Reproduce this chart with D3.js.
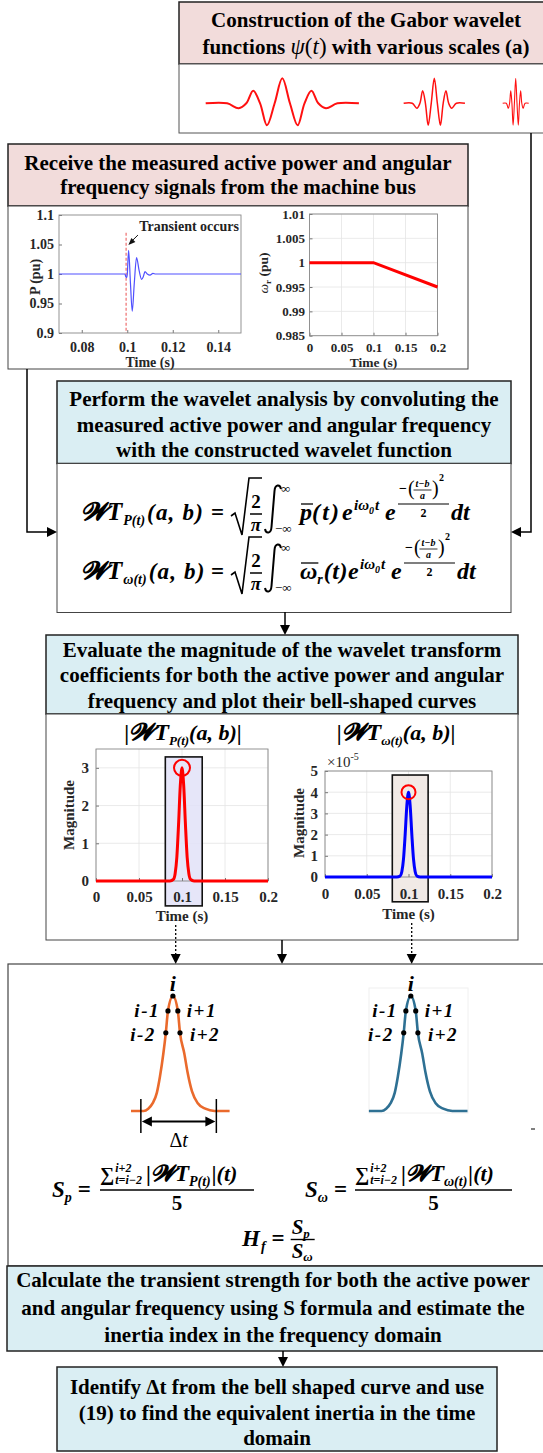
<!DOCTYPE html>
<html><head><meta charset="utf-8">
<script src="https://cdn.jsdelivr.net/npm/d3@7/dist/d3.min.js"></script>
<style>html,body{margin:0;padding:0;background:#fff}svg{display:block}</style>
</head><body>
<svg id="fig" width="543" height="1453" xmlns="http://www.w3.org/2000/svg"></svg>
<script>
// ---------------- data ----------------
const gaborT   = [-1,-0.72,-0.57,-0.47,-0.38,-0.29,-0.2,-0.1,0,0.1,0.2,0.29,0.38,0.47,0.57,0.72,1];
const gaborPsi = [0,0,-0.2,0,0.5,0,-0.88,0,1,0,-0.88,0,0.5,0,-0.2,0,0];
const gaborScales = [1, 0.4, 0.17];

const pTime  = [0.07,0.0990,0.0994,0.0998,0.1000,0.1006,0.1014,0.1022,0.1031,0.1041,0.1052,0.1063,0.1071,0.1078,0.1088,0.1100,0.1113,0.1125,0.15];
const pValue = [1.0, 1.0,   0.995, 0.994, 0.999, 1.040, 0.985, 0.937, 0.985, 1.028, 1.006, 0.991, 0.996, 1.004, 1.000, 0.998, 1.001, 1.0,   1.0];
const pTicksX = [0.08,0.1,0.12,0.14];
const pLabelsX = ["0.08","0.1","0.12","0.14"];
const pTicksY = [0.9,0.95,1,1.05,1.1];
const pLabelsY = ["0.9","0.95","1","1.05","1.1"];
const transientTime = 0.0995;

const omegaTime  = [0, 0.1, 0.2];
const omegaValue = [1, 1, 0.995];
const omegaTicksY  = [0.985,0.99,0.995,1,1.005,1.01];
const omegaLabelsY = ["0.985","0.99","0.995","1","1.005","1.01"];
const timeTicks  = [0,0.05,0.1,0.15,0.2];
const timeLabels = ["0","0.05","0.1","0.15","0.2"];

const wtTime  = [0,0.086,0.090,0.092,0.094,0.096,0.098,0.100,0.102,0.104,0.106,0.108,0.110,0.114,0.2];
const wtPower = [0,0,0.04,0.19,0.63,1.5,2.52,3.0,2.52,1.5,0.63,0.19,0.04,0,0];
const wtOmega = [0,0,0.05,0.25,0.84,2.0,3.36,4.0,3.36,2.0,0.84,0.25,0.05,0,0];
const wtPowerTicks = [0,1,2,3];
const wtOmegaTicks = [0,1,2,3,4,5];
const peakTime = 0.1, peakPower = 3, peakOmega = 4;
const windowTime = [0.0806, 0.1235];

const bellTime  = [0.0864,0.0905,0.0920,0.0935,0.0948,0.0958,0.0969,0.0977,0.0984,0.1000,0.1016,0.1023,0.1037,0.1048,0.1062,0.1080,0.1105,0.1135,0.1184];
const bellValue = [0,0,0.02,0.07,0.16,0.30,0.50,0.68,0.87,1,0.87,0.68,0.50,0.33,0.17,0.07,0.02,0,0];
const dotTime   = [0.0977,0.0984,0.1000,0.1016,0.1023];
const dotValue  = [0.68,0.87,1,0.87,0.68];
const dotLabels = ["i-2","i-1","i","i+1","i+2"];
const deltaT = [0.0896, 0.1141];

// ---------------- helpers ----------------
const svg = d3.select('#fig');
const SERIF = "'Liberation Serif','Times New Roman',serif";
const MATHF = "'Liberation Serif','DejaVu Serif',serif";
const SW = '𝓦';
const PINK = '#f2dcdb', BLUE = '#daeef3';

function rect(x,y,w,h,fill,stroke,sw){
  return svg.append('rect').attr('x',x).attr('y',y).attr('width',w).attr('height',h)
    .attr('fill',fill).attr('stroke',stroke).attr('stroke-width',sw);
}
function lines(arr, cx, bases, size){
  arr.forEach((t,i)=>svg.append('text').attr('x',cx).attr('y',bases[i]).attr('text-anchor','middle')
    .attr('font-family',SERIF).attr('font-weight','bold').attr('font-size',size).attr('fill','#000').text(t));
}
function head(x,y,dir){ // tip at x,y
  const L=10, H=5; let p;
  if(dir==='down') p=[[x,y],[x-H,y-L],[x+H,y-L]];
  if(dir==='left') p=[[x,y],[x+L,y-H],[x+L,y+H]];
  if(dir==='right') p=[[x,y],[x-L,y-H],[x-L,y+H]];
  svg.append('path').attr('d','M'+p.map(q=>q.join(',')).join('L')+'Z').attr('fill','#000');
}
function T(s,x,y,size,o={}){
  const t=svg.append('text').attr('x',x).attr('y',y).attr('font-family',o.family||MATHF)
    .attr('font-size',size).attr('font-weight',o.weight||'bold').attr('font-style',o.style||'italic')
    .attr('text-anchor',o.anchor||'start').attr('fill','#000').text(s);
  if(o.ls) t.attr('letter-spacing',o.ls);
  return t.node().getComputedTextLength();
}
function integral(x, top, bottom){
  svg.append('path').attr('d',
    `M${x+15},${top+4} C${x+14},${top-1} ${x+9},${top-1} ${x+8.5},${top+6} L${x+5.5},${bottom-6} C${x+5},${bottom+1} ${x},${bottom+1} ${x-1},${bottom-4}`)
    .attr('fill','none').attr('stroke','#000').attr('stroke-width',2);
}
function hline(x1,x2,y,w){
  svg.append('line').attr('x1',x1).attr('x2',x2).attr('y1',y).attr('y2',y).attr('stroke','#000').attr('stroke-width',w);
}

// ---------------- Box 1 : Gabor ----------------
rect(179,2,375,62,PINK,'#222',1.5);
rect(179,64,375,69,'#fff','#555',1);
lines(["Construction of the Gabor wavelet"],366,[27],21);
{
  const t=svg.append('text').attr('x',366).attr('y',54).attr('text-anchor','middle')
    .attr('font-family',SERIF).attr('font-weight','bold').attr('font-size',21);
  t.append('tspan').text('functions ');
  t.append('tspan').attr('font-weight','normal').attr('font-style','italic').attr('font-size',23).text('ψ');
  t.append('tspan').attr('font-weight','normal').attr('font-size',23).text('(');
  t.append('tspan').attr('font-weight','normal').attr('font-style','italic').attr('font-size',23).text('t');
  t.append('tspan').attr('font-weight','normal').attr('font-size',23).text(')');
  t.append('tspan').text(' with various scales (a)');
}
{
  const centers=[282.3,434.3,515.7], half=76.6, widths=[2,1.5,1.1];
  const gabor = gaborT.map((t,i)=>[t,gaborPsi[i]]);
  gaborScales.forEach((s,k)=>{
    const x=d3.scaleLinear().domain([-1,1]).range([centers[k]-half*s, centers[k]+half*s]);
    const y=d3.scaleLinear().domain([-1,1]).range([128.3,78.3]);
    svg.append('path').datum(gabor).attr('d',d3.line().x(d=>x(d[0])).y(d=>y(d[1])).curve(d3.curveCatmullRom))
      .attr('fill','none').attr('stroke','#ff1010').attr('stroke-width',widths[k]);
  });
}

// ---------------- Box 2 : measured signals ----------------
rect(8,144,460,62,PINK,'#222',1.5);
rect(8,206,460,163,'#fff','#444',1);
lines(["Receive the measured active power and angular","frequency signals from the machine bus"],238,[170,194],21);

function plot(o){
  const g=svg.append('g');
  const x=d3.scaleLinear().domain(o.xDomain).range([o.left,o.right]);
  const y=d3.scaleLinear().domain(o.yDomain).range([o.bottom,o.top]);
  if(o.grid){
    g.selectAll(null).data(o.xTicks).join('line').attr('x1',d=>x(d)).attr('x2',d=>x(d))
      .attr('y1',o.top).attr('y2',o.bottom).attr('stroke','#e4e4e4').attr('stroke-width',0.8);
    g.selectAll(null).data(o.yTicks).join('line').attr('y1',d=>y(d)).attr('y2',d=>y(d))
      .attr('x1',o.left).attr('x2',o.right).attr('stroke','#e4e4e4').attr('stroke-width',0.8);
  }
  if(o.before) o.before(g,x,y);
  const xa=d3.axisBottom(x).tickValues(o.xTicks).tickFormat((d,i)=>o.xLabels[i]).tickSizeInner(-3).tickSizeOuter(0).tickPadding(o.xPad);
  const ya=d3.axisLeft(y).tickValues(o.yTicks).tickFormat((d,i)=>o.yLabels[i]).tickSizeInner(-3).tickSizeOuter(0).tickPadding(o.yPad);
  const gx=g.append('g').attr('transform',`translate(0,${o.bottom})`).call(xa);
  const gy=g.append('g').attr('transform',`translate(${o.left},0)`).call(ya);
  [gx,gy].forEach(a=>{a.select('.domain').remove();a.selectAll('line').attr('stroke','#777');
    a.selectAll('text').attr('font-family',SERIF).attr('font-weight','bold').attr('font-size',o.fs).attr('fill','#262626');});
  g.append('rect').attr('x',o.left).attr('y',o.top).attr('width',o.right-o.left).attr('height',o.bottom-o.top)
    .attr('fill','none').attr('stroke','#888').attr('stroke-width',0.9);
  g.append('text').attr('x',(o.left+o.right)/2).attr('y',o.xLabelY).attr('text-anchor','middle')
    .attr('font-family',SERIF).attr('font-weight','bold').attr('font-size',o.lfs).attr('fill','#262626').text('Time (s)');
  return {g,x,y};
}

// P chart
{
  const c=plot({left:59,right:241,top:215,bottom:333,xDomain:[0.07,0.15],yDomain:[0.9,1.1],
    xTicks:pTicksX,xLabels:pLabelsX,yTicks:pTicksY,yLabels:pLabelsY,grid:false,fs:14,lfs:14,
    xPad:9,yPad:5,xLabelY:367});
  const g=c.g,x=c.x,y=c.y;
  g.append('line').attr('x1',x(transientTime)).attr('x2',x(transientTime)).attr('y1',y(1.07)).attr('y2',y(0.9))
    .attr('stroke','#f07a7a').attr('stroke-width',1.3).attr('stroke-dasharray','3,2');
  g.append('path').datum(pTime.map((t,i)=>[t,pValue[i]]))
    .attr('d',d3.line().x(d=>x(d[0])).y(d=>y(d[1])).curve(d3.curveMonotoneX))
    .attr('fill','none').attr('stroke','#5050ff').attr('stroke-width',1.2);
  g.append('text').attr('x',x(0.1053)).attr('y',231).attr('font-family',SERIF).attr('font-weight','bold')
    .attr('font-size',14).attr('fill','#222').text('Transient occurs');
  g.append('line').attr('x1',x(0.1047)).attr('y1',y(1.066)).attr('x2',x(0.1010)).attr('y2',y(1.052))
    .attr('stroke','#111').attr('stroke-width',1);
  const tx=x(0.1005), ty=y(1.049);
  g.append('path').attr('d',`M${tx},${ty} L${tx+3},${ty-7} L${tx+7},${ty-3} Z`).attr('fill','#111');
  svg.append('text').attr('transform','translate(40,277) rotate(-90)').attr('text-anchor','middle')
    .attr('font-family',SERIF).attr('font-weight','bold').attr('font-size',14).attr('fill','#262626').text('P (pu)');
}
// omega chart
{
  const c=plot({left:309.5,right:437.5,top:214,bottom:335.7,xDomain:[0,0.2],yDomain:[0.985,1.01],
    xTicks:timeTicks,xLabels:timeLabels,yTicks:omegaTicksY,yLabels:omegaLabelsY,grid:true,fs:13,lfs:13.5,
    xPad:7.5,yPad:4.5,xLabelY:367});
  c.g.append('path').datum(omegaTime.map((t,i)=>[t,omegaValue[i]]))
    .attr('d',d3.line().x(d=>c.x(d[0])).y(d=>c.y(d[1])))
    .attr('fill','none').attr('stroke','#ff0000').attr('stroke-width',3);
  const t=svg.append('text').attr('transform','translate(268,273) rotate(-90)').attr('text-anchor','middle')
    .attr('font-family',SERIF).attr('font-weight','bold').attr('font-size',13.5).attr('fill','#262626');
  t.append('tspan').attr('font-style','italic').attr('font-weight','normal').text('ω');
  t.append('tspan').attr('font-size',9).attr('dy',3).text('r');
  t.append('tspan').attr('dy',-3).text(' (pu)');
}

// ---------------- Box 3 : wavelet analysis ----------------
rect(57,381,454,82.5,BLUE,'#222',1.5);
rect(57,463.5,454,149,'#fff','#444',1);
lines(["Perform the wavelet analysis by convoluting the","measured active power and angular frequency","with the constructed wavelet function"],284,[406,432,457],21);

function wtFormula(base, sub, omega, P){
  let cx=P.wt;
  cx+=T(SW+'T',cx,base,25);
  cx+=T(sub,cx+1,base+5,14)+3;
  T('(a, b)',cx,base,23,{ls:1.2});
  T('=',P.eq,base,23,{style:'normal'});
  const sx=P.sqrt;
  svg.append('path').attr('d',`M${sx},${base-4} l4,-3 l7,22 l7,-57 h13`).attr('fill','none').attr('stroke','#000').attr('stroke-width',1.6);
  T('2',sx+25,base-12,19,{anchor:'middle',style:'normal'});
  hline(sx+19,sx+31,base-6,1.5);
  T('π',sx+25,base+11,19,{anchor:'middle'});
  integral(P.int,base-35,base+13);
  T('∞',P.int+15,base-27,13,{style:'normal',weight:'normal'});
  T('−∞',P.int+9,base+13,13,{style:'normal',weight:'normal'});
  cx=P.v;
  const vw=T(omega?'ω':'p',cx,base,24);
  hline(cx+1,cx+vw+1,base-16,1.3);
  cx+=vw;
  if(omega) cx+=T('r',cx,base+5,14)+1;
  cx+=T('(t)',cx,base,24,{ls:omega?0.5:2.2});
  const sh=Math.max(0,cx-P.e1);
  T('e',P.e1+sh,base,24);
  let sx2=P.sup+sh;
  sx2+=T('iω',sx2,base-10,15);
  sx2+=T('0',sx2,base-6,10);
  T('t',sx2+1,base-10,15);
  T('e',P.e2+sh,base,24);
  const nx=P.ex0+sh, nx1=P.ex1+sh;
  T('−',nx+1,base-27,14,{style:'normal'});
  T('(',nx+10,base-25,20,{style:'normal',weight:'normal'});
  const fc=nx+24.5;
  T('t−b',fc,base-33,10,{anchor:'middle'});
  hline(fc-9,fc+9,base-30,0.8);
  T('a',fc,base-21,10,{anchor:'middle'});
  T(')',nx+34,base-25,20,{style:'normal',weight:'normal'});
  T('2',nx+41,base-39,10,{style:'normal'});
  hline(nx,nx1,base-16,1.2);
  T('2',(nx+nx1)/2,base-3,12,{anchor:'middle',style:'normal'});
  T('dt',P.dt+sh,base,24);
}
wtFormula(520,'P(t)',false,{wt:81,eq:211,sqrt:231,int:266,v:300,e1:342,sup:354,e2:385,ex0:398,ex1:449,dt:451});
wtFormula(579,'ω(t)',true,{wt:81,eq:211,sqrt:231,int:266,v:300,e1:347,sup:359,e2:390,ex0:403,ex1:454,dt:456});

// connectors into box 3
svg.append('path').attr('d','M531,133 V532 H521').attr('fill','none').attr('stroke','#000').attr('stroke-width',1.5);
head(511,532,'left');
svg.append('path').attr('d','M27,369 V532 H47').attr('fill','none').attr('stroke','#000').attr('stroke-width',1.5);
head(57,532,'right');
svg.append('line').attr('x1',285).attr('x2',285).attr('y1',612).attr('y2',626).attr('stroke','#000').attr('stroke-width',1.5);
head(285,635,'down');

// ---------------- Box 4 : magnitude ----------------
rect(46,635,472,79,BLUE,'#222',1.5);
rect(46,714,472,226,'#fff','#444',1);
lines(["Evaluate the magnitude of the wavelet transform","coefficients for both the active power and angular","frequency and plot their bell-shaped curves"],282,[657,682,707.5],21);

function wtTitle(cx, base, sub){
  const t=svg.append('text').attr('x',cx).attr('y',base).attr('text-anchor','middle').attr('font-family',MATHF)
    .attr('font-weight','bold').attr('font-style','italic').attr('font-size',22).attr('fill','#000');
  t.append('tspan').attr('font-style','normal').text('|');
  t.append('tspan').attr('font-size',24).text(SW+'T');
  t.append('tspan').attr('font-size',13).attr('dy',5).text(sub);
  t.append('tspan').attr('dy',-5).text('(a, b)');
  t.append('tspan').attr('font-style','normal').text('|');
}
wtTitle(183,740,'P(t)');
wtTitle(396,740,'ω(t)');

function wtChart(o){
  const c=plot({left:o.left,right:o.right,top:o.top,bottom:o.bottom,xDomain:[0,0.2],yDomain:o.yDomain,
    xTicks:timeTicks,xLabels:timeLabels,yTicks:o.yTicks,yLabels:o.yTicks.map(String),grid:true,fs:15,lfs:15,
    xPad:o.xPad,yPad:7,xLabelY:o.xLabelY,
    before:(g,x,y)=>{
      g.append('rect').attr('x',x(windowTime[0])).attr('width',x(windowTime[1])-x(windowTime[0]))
        .attr('y',y(o.win[1])).attr('height',y(o.win[0])-y(o.win[1]))
        .attr('fill',o.winFill).attr('fill-opacity',0.85).attr('stroke','#111').attr('stroke-width',1.6);
    }});
  c.g.append('path').datum(wtTime.map((t,i)=>[t,o.values[i]]))
    .attr('d',d3.line().x(d=>c.x(d[0])).y(d=>c.y(d[1])).curve(d3.curveMonotoneX))
    .attr('fill','none').attr('stroke',o.color).attr('stroke-width',3);
  c.g.append('circle').attr('cx',c.x(peakTime)).attr('cy',c.y(o.peak)).attr('r',o.r)
    .attr('fill','none').attr('stroke','#ff0000').attr('stroke-width',2);
  svg.append('text').attr('transform',`translate(${o.ylx},${o.yly}) rotate(-90)`).attr('text-anchor','middle')
    .attr('font-family',SERIF).attr('font-weight','bold').attr('font-size',15).attr('fill','#262626').text('Magnitude');
  return c;
}
wtChart({left:96,right:268,top:749,bottom:881,yDomain:[0,3.5],yTicks:wtPowerTicks,values:wtPower,color:'#ff0000',
  peak:peakPower,r:8,win:[-0.66,3.29],winFill:'#e2e2f8',xPad:10.5,xLabelY:921,ylx:74,yly:815});
wtChart({left:325,right:492,top:771,bottom:877,yDomain:[0,5],yTicks:wtOmegaTicks,values:wtOmega,color:'#0000ff',
  peak:peakOmega,r:7,win:[-1.17,4.81],winFill:'#efe6e2',xPad:11.5,xLabelY:919,ylx:304,yly:823});
{
  const t=svg.append('text').attr('x',327).attr('y',767).attr('font-family',SERIF).attr('font-size',15).attr('fill','#262626');
  t.append('tspan').text('×10');
  t.append('tspan').attr('font-size',10).attr('dy',-7).text('-5');
}

// arrows box4 -> box5
svg.append('line').attr('x1',282).attr('x2',282).attr('y1',940).attr('y2',955).attr('stroke','#000').attr('stroke-width',1.5);
head(282,964,'down');
[[175.7,925],[411.7,923]].forEach(p=>{
  svg.append('line').attr('x1',p[0]).attr('x2',p[0]).attr('y1',p[1]).attr('y2',955).attr('stroke','#000')
    .attr('stroke-width',1.3).attr('stroke-dasharray','2,2');
  head(p[0],964,'down');
});

// ---------------- Box 5 : bells & formulas ----------------
rect(8,964,540,302,'#fff','#444',1.2);
svg.append('rect').attr('x',369).attr('y',988).attr('width',99).attr('height',125).attr('fill','none').attr('stroke','#f0f0f0');

function bell(x0,x1,color,withDelta){
  const x=d3.scaleLinear().domain([bellTime[0],bellTime[bellTime.length-1]]).range([x0,x1]);
  const y=d3.scaleLinear().domain([0,1]).range([1111,996]);
  svg.append('path').datum(bellTime.map((t,i)=>[t,bellValue[i]]))
    .attr('d',d3.line().x(d=>x(d[0])).y(d=>y(d[1])).curve(d3.curveMonotoneX))
    .attr('fill','none').attr('stroke',color).attr('stroke-width',2.6);
  dotTime.forEach((t,i)=>{
    svg.append('circle').attr('cx',x(t)).attr('cy',y(dotValue[i])).attr('r',2.6).attr('fill','#000');
  });
  const pk=x(dotTime[2]);
  T(dotLabels[2],pk,y(dotValue[2])-5,22,{anchor:'middle'});
  [[1,-8,'end',6],[3,9,'start',6],[0,-10,'end',8],[4,10,'start',8]].forEach(([i,dx,an,dy])=>{
    T(dotLabels[i],x(dotTime[i])+dx,y(dotValue[i])+dy,19,{anchor:an,ls:1.5});
  });
  if(withDelta){
    const a=x(deltaT[0]), b=x(deltaT[1]);
    [a,b].forEach(v=>svg.append('line').attr('x1',v).attr('x2',v).attr('y1',1099).attr('y2',1133).attr('stroke','#000').attr('stroke-width',1.5));
    hline(a+8,b-8,1121.5,2);
    head(a+1,1121.5,'left'); head(b-1,1121.5,'right');
    const t=svg.append('text').attr('x',(a+b)/2).attr('y',1147).attr('text-anchor','middle')
      .attr('font-family',MATHF).attr('font-size',20).attr('fill','#000');
    t.append('tspan').text('Δ');
    t.append('tspan').attr('font-style','italic').text('t');
  }
}
bell(131,229.6,'#ea6a2c',true);
bell(368.9,467.5,'#2e7093',false);
hline(531,535,1129,1);

function sFormula(x0, base, sSub, wtSub, fx, fEnd){
  let cx=x0;
  cx+=T('S',cx,base,23);
  cx+=T(sSub,cx,base+5,14)+6;
  T('=',cx,base,23,{style:'normal'});
  const nb=base-16;
  let nx=fx;
  nx+=T('∑',nx,nb,20,{style:'normal'})+1;
  const w1=T('i+2',nx,nb-9,12), w2=T('t=i−2',nx,nb+3,12);
  nx+=Math.max(w1,w2)+4;
  nx+=T('|',nx,nb,22,{style:'normal'});
  nx+=T(SW+'T',nx,nb,23);
  nx+=T(wtSub,nx,nb+5,14)+1;
  nx+=T('|(t)',nx,nb,22);
  hline(fx,Math.max(nx,fEnd),base-7,1.4);
  T('5',(fx+Math.max(nx,fEnd))/2,base+13,21,{anchor:'middle',style:'normal'});
}
sFormula(52,1197,'p','P(t)',100,254);
sFormula(305,1197,'ω','ω(t)',355,512);
{
  let cx=242, base=1246;
  cx+=T('H',cx,base,23);
  cx+=T('f',cx+1,base+5,14)+7;
  cx+=T('=',cx,base,23,{style:'normal'})+6;
  const fx=cx;
  let w=T('S',fx+1,base-12,21); T('p',fx+1+w,base-8,13);
  let w2=T('S',fx+1,base+12,21); T('ω',fx+1+w2,base+15,13);
  hline(fx,fx+24,base-6.5,1.4);
}

// ---------------- Calculate header ----------------
rect(7,1266,541,85,BLUE,'#222',1.5);
lines(["Calculate the transient strength for both the active power","and angular frequency using S formula and estimate the","inertia index in the frequency domain"],273,[1287,1315,1342],21);
svg.append('line').attr('x1',283).attr('x2',283).attr('y1',1351).attr('y2',1358).attr('stroke','#000').attr('stroke-width',1.5);
head(283,1367,'down');

// ---------------- Last box ----------------
rect(57,1367,440,84,BLUE,'#222',1.5);
lines(["Identify Δt from the bell shaped curve and use","(19) to find the equivalent inertia in the time","domain"],277,[1394,1420,1445],21);
</script>
</body></html>
